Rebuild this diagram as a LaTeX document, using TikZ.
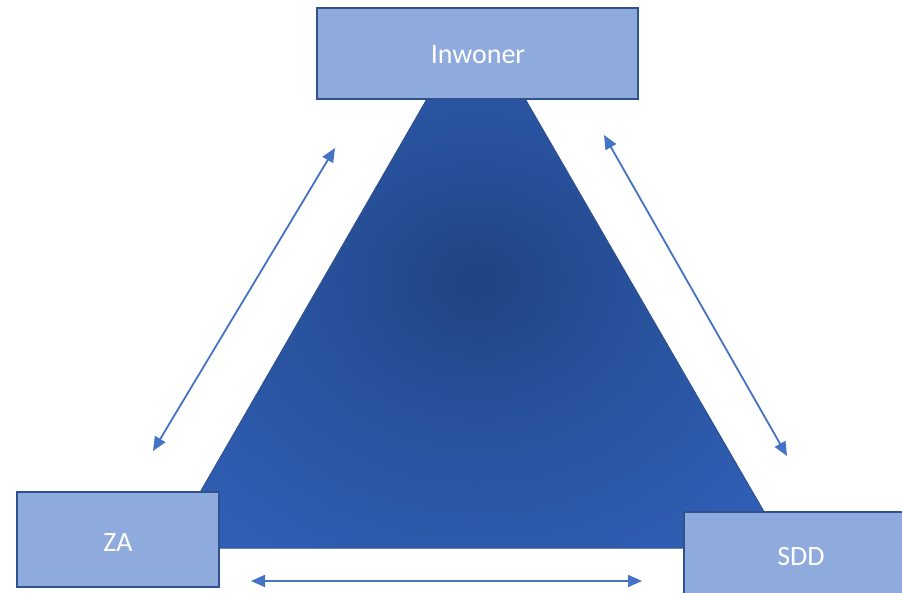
\documentclass[tikz,border=0pt]{standalone}
\usepackage{fontspec}
\setmainfont{Carlito}
\usetikzlibrary{arrows.meta}
\definecolor{cin}{HTML}{1F4382}
\definecolor{cmid}{HTML}{28509A}
\definecolor{cout}{HTML}{3569C8}
\definecolor{boxfill}{HTML}{8FAADC}
\definecolor{boxline}{HTML}{2F528F}
\definecolor{arr}{HTML}{4472C4}
\pgfdeclareradialshading{trishade}{\pgfpoint{0bp}{0bp}}{color(0bp)=(cin); color(12bp)=(cmid); color(30bp)=(cmid!45!cout); color(50bp)=(cout)}
\tikzset{
  actor/.style={draw=boxline, line width=2pt, fill=boxfill, inner sep=0pt},
  lbl/.style={text=white, inner sep=0pt, font=\fontsize{28}{32}\selectfont},
  link/.style={draw=arr, line width=1.8pt, {Triangle[length=14pt,width=12pt]}-{Triangle[length=14pt,width=12pt]}}
}
\begin{document}
\begin{tikzpicture}[x=1pt,y=-1pt]
\useasboundingbox (0,0) rectangle (902,593);
\begin{scope}
\clip (0,0) rectangle (902,593);
% triangle
\coordinate (apex) at (476,14);
\coordinate (bl) at (168,548);
\coordinate (br) at (785,548);
\path[shading=trishade, draw=boxline, line width=1pt] (apex) -- (br) -- (bl) -- cycle;
% boxes
\node[actor, minimum width=321pt, minimum height=91pt] (inw) at (477.5,53.5) {};
\node[actor, minimum width=202pt, minimum height=95pt] (za) at (118,539.5) {};
\node[actor, minimum width=232pt, minimum height=100pt] (sdd) at (800,562) {};
\node[lbl] (inwlabel) at (478,54.5) {Inwoner};
\node[lbl] (zalabel) at (118,542.5) {ZA};
\node[lbl] (sddlabel) at (801,556.5) {SDD};
% arrows
\coordinate (l1) at (335,148);
\coordinate (l2) at (153,451);
\coordinate (r1) at (604,135);
\coordinate (r2) at (787,456);
\coordinate (b1) at (251,581);
\coordinate (b2) at (642,581);
\draw[link] (l1) -- (l2);
\draw[link] (r1) -- (r2);
\draw[link] (b1) -- (b2);
\end{scope}
\end{tikzpicture}
\end{document}
